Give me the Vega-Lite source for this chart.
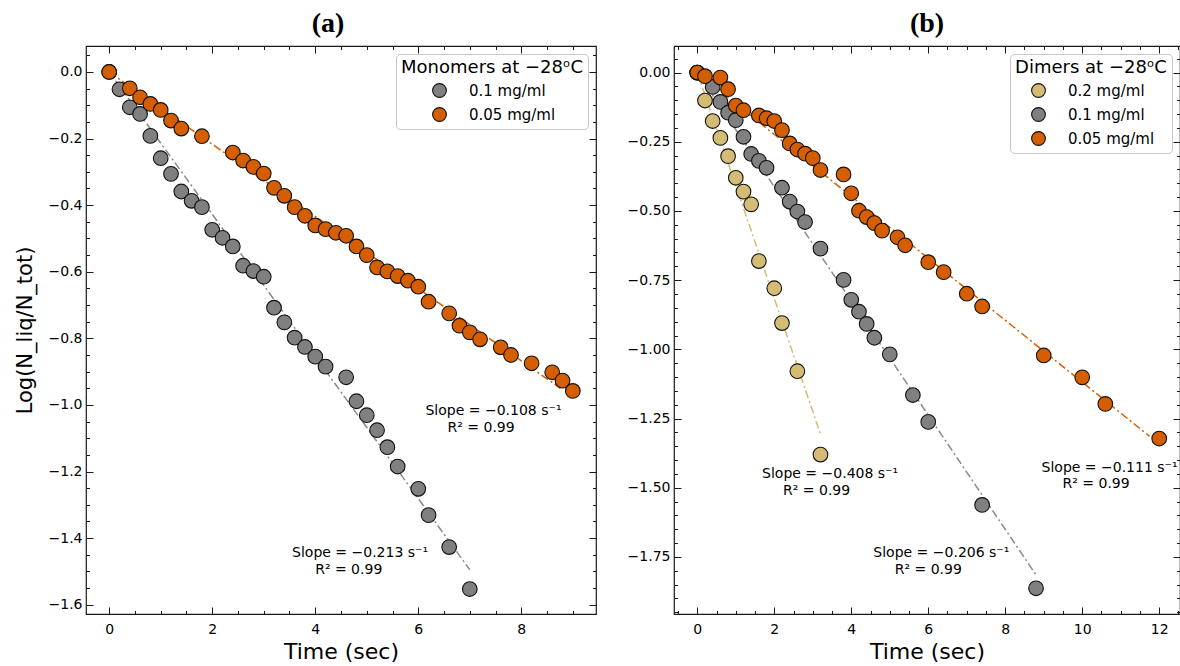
{
  "$schema": "https://vega.github.io/schema/vega-lite/v6.json",
  "padding": {"left": 13, "top": 8, "right": 2, "bottom": 0},
  "background": "white",
  "datasets": {
    "ptsA": [
      {"series": "0.1 mg/ml", "t": 0, "v": 0},
      {"series": "0.1 mg/ml", "t": 0.2, "v": -0.052},
      {"series": "0.1 mg/ml", "t": 0.4, "v": -0.106},
      {"series": "0.1 mg/ml", "t": 0.6, "v": -0.126},
      {"series": "0.1 mg/ml", "t": 0.8, "v": -0.192},
      {"series": "0.1 mg/ml", "t": 1.0, "v": -0.259},
      {"series": "0.1 mg/ml", "t": 1.2, "v": -0.306},
      {"series": "0.1 mg/ml", "t": 1.4, "v": -0.359},
      {"series": "0.1 mg/ml", "t": 1.6, "v": -0.387},
      {"series": "0.1 mg/ml", "t": 1.8, "v": -0.406},
      {"series": "0.1 mg/ml", "t": 2.0, "v": -0.474},
      {"series": "0.1 mg/ml", "t": 2.2, "v": -0.498},
      {"series": "0.1 mg/ml", "t": 2.4, "v": -0.524},
      {"series": "0.1 mg/ml", "t": 2.6, "v": -0.582},
      {"series": "0.1 mg/ml", "t": 2.8, "v": -0.598},
      {"series": "0.1 mg/ml", "t": 3.0, "v": -0.615},
      {"series": "0.1 mg/ml", "t": 3.2, "v": -0.708},
      {"series": "0.1 mg/ml", "t": 3.4, "v": -0.752},
      {"series": "0.1 mg/ml", "t": 3.6, "v": -0.798},
      {"series": "0.1 mg/ml", "t": 3.8, "v": -0.826},
      {"series": "0.1 mg/ml", "t": 4.0, "v": -0.855},
      {"series": "0.1 mg/ml", "t": 4.2, "v": -0.885},
      {"series": "0.1 mg/ml", "t": 4.6, "v": -0.917},
      {"series": "0.1 mg/ml", "t": 4.8, "v": -0.989},
      {"series": "0.1 mg/ml", "t": 5.0, "v": -1.031},
      {"series": "0.1 mg/ml", "t": 5.2, "v": -1.076},
      {"series": "0.1 mg/ml", "t": 5.4, "v": -1.127},
      {"series": "0.1 mg/ml", "t": 5.6, "v": -1.185},
      {"series": "0.1 mg/ml", "t": 6.0, "v": -1.252},
      {"series": "0.1 mg/ml", "t": 6.2, "v": -1.331},
      {"series": "0.1 mg/ml", "t": 6.6, "v": -1.427},
      {"series": "0.1 mg/ml", "t": 7.0, "v": -1.553},
      {"series": "0.05 mg/ml", "t": 0, "v": 0},
      {"series": "0.05 mg/ml", "t": 0.4, "v": -0.049},
      {"series": "0.05 mg/ml", "t": 0.6, "v": -0.076},
      {"series": "0.05 mg/ml", "t": 0.8, "v": -0.096},
      {"series": "0.05 mg/ml", "t": 1.0, "v": -0.114},
      {"series": "0.05 mg/ml", "t": 1.2, "v": -0.146},
      {"series": "0.05 mg/ml", "t": 1.4, "v": -0.170},
      {"series": "0.05 mg/ml", "t": 1.8, "v": -0.193},
      {"series": "0.05 mg/ml", "t": 2.4, "v": -0.242},
      {"series": "0.05 mg/ml", "t": 2.6, "v": -0.266},
      {"series": "0.05 mg/ml", "t": 2.8, "v": -0.285},
      {"series": "0.05 mg/ml", "t": 3.0, "v": -0.305},
      {"series": "0.05 mg/ml", "t": 3.2, "v": -0.348},
      {"series": "0.05 mg/ml", "t": 3.4, "v": -0.372},
      {"series": "0.05 mg/ml", "t": 3.6, "v": -0.406},
      {"series": "0.05 mg/ml", "t": 3.8, "v": -0.432},
      {"series": "0.05 mg/ml", "t": 4.0, "v": -0.461},
      {"series": "0.05 mg/ml", "t": 4.2, "v": -0.472},
      {"series": "0.05 mg/ml", "t": 4.4, "v": -0.483},
      {"series": "0.05 mg/ml", "t": 4.6, "v": -0.492},
      {"series": "0.05 mg/ml", "t": 4.8, "v": -0.524},
      {"series": "0.05 mg/ml", "t": 5.0, "v": -0.550},
      {"series": "0.05 mg/ml", "t": 5.2, "v": -0.587},
      {"series": "0.05 mg/ml", "t": 5.4, "v": -0.599},
      {"series": "0.05 mg/ml", "t": 5.6, "v": -0.613},
      {"series": "0.05 mg/ml", "t": 5.8, "v": -0.627},
      {"series": "0.05 mg/ml", "t": 6.0, "v": -0.645},
      {"series": "0.05 mg/ml", "t": 6.2, "v": -0.690},
      {"series": "0.05 mg/ml", "t": 6.6, "v": -0.725},
      {"series": "0.05 mg/ml", "t": 6.8, "v": -0.762},
      {"series": "0.05 mg/ml", "t": 7.0, "v": -0.782},
      {"series": "0.05 mg/ml", "t": 7.2, "v": -0.803},
      {"series": "0.05 mg/ml", "t": 7.6, "v": -0.827},
      {"series": "0.05 mg/ml", "t": 7.8, "v": -0.850},
      {"series": "0.05 mg/ml", "t": 8.2, "v": -0.875},
      {"series": "0.05 mg/ml", "t": 8.6, "v": -0.902},
      {"series": "0.05 mg/ml", "t": 8.8, "v": -0.927},
      {"series": "0.05 mg/ml", "t": 9.0, "v": -0.958}
    ],
    "fitA": [
      {"series": "0.1 mg/ml", "t": 0, "v": 0},
      {"series": "0.1 mg/ml", "t": 7.0, "v": -1.495},
      {"series": "0.05 mg/ml", "t": 0, "v": 0},
      {"series": "0.05 mg/ml", "t": 8.76, "v": -0.950}
    ],
    "annA": [
      {"t": 7.46, "v": -1.018, "text": "Slope = −0.108 s⁻¹"},
      {"t": 7.22, "v": -1.069, "text": "R² = 0.99"},
      {"t": 4.87, "v": -1.444, "text": "Slope = −0.213 s⁻¹"},
      {"t": 4.65, "v": -1.495, "text": "R² = 0.99"}
    ],
    "ptsB": [
      {"series": "0.2 mg/ml", "t": 0, "v": 0},
      {"series": "0.2 mg/ml", "t": 0.2, "v": -0.101},
      {"series": "0.2 mg/ml", "t": 0.4, "v": -0.175},
      {"series": "0.2 mg/ml", "t": 0.6, "v": -0.236},
      {"series": "0.2 mg/ml", "t": 0.8, "v": -0.302},
      {"series": "0.2 mg/ml", "t": 1.0, "v": -0.380},
      {"series": "0.2 mg/ml", "t": 1.2, "v": -0.430},
      {"series": "0.2 mg/ml", "t": 1.4, "v": -0.476},
      {"series": "0.2 mg/ml", "t": 1.6, "v": -0.681},
      {"series": "0.2 mg/ml", "t": 2.0, "v": -0.779},
      {"series": "0.2 mg/ml", "t": 2.2, "v": -0.905},
      {"series": "0.2 mg/ml", "t": 2.6, "v": -1.079},
      {"series": "0.2 mg/ml", "t": 3.2, "v": -1.380},
      {"series": "0.1 mg/ml", "t": 0, "v": 0},
      {"series": "0.1 mg/ml", "t": 0.4, "v": -0.052},
      {"series": "0.1 mg/ml", "t": 0.6, "v": -0.106},
      {"series": "0.1 mg/ml", "t": 0.8, "v": -0.145},
      {"series": "0.1 mg/ml", "t": 1.0, "v": -0.172},
      {"series": "0.1 mg/ml", "t": 1.2, "v": -0.232},
      {"series": "0.1 mg/ml", "t": 1.4, "v": -0.294},
      {"series": "0.1 mg/ml", "t": 1.6, "v": -0.319},
      {"series": "0.1 mg/ml", "t": 1.8, "v": -0.344},
      {"series": "0.1 mg/ml", "t": 2.2, "v": -0.416},
      {"series": "0.1 mg/ml", "t": 2.4, "v": -0.466},
      {"series": "0.1 mg/ml", "t": 2.6, "v": -0.502},
      {"series": "0.1 mg/ml", "t": 2.8, "v": -0.540},
      {"series": "0.1 mg/ml", "t": 3.2, "v": -0.636},
      {"series": "0.1 mg/ml", "t": 3.8, "v": -0.749},
      {"series": "0.1 mg/ml", "t": 4.0, "v": -0.821},
      {"series": "0.1 mg/ml", "t": 4.2, "v": -0.864},
      {"series": "0.1 mg/ml", "t": 4.4, "v": -0.908},
      {"series": "0.1 mg/ml", "t": 4.6, "v": -0.958},
      {"series": "0.1 mg/ml", "t": 5.0, "v": -1.018},
      {"series": "0.1 mg/ml", "t": 5.6, "v": -1.165},
      {"series": "0.1 mg/ml", "t": 6.0, "v": -1.262},
      {"series": "0.1 mg/ml", "t": 7.4, "v": -1.562},
      {"series": "0.1 mg/ml", "t": 8.8, "v": -1.863},
      {"series": "0.05 mg/ml", "t": 0, "v": 0},
      {"series": "0.05 mg/ml", "t": 0.2, "v": -0.013},
      {"series": "0.05 mg/ml", "t": 0.6, "v": -0.018},
      {"series": "0.05 mg/ml", "t": 0.8, "v": -0.060},
      {"series": "0.05 mg/ml", "t": 1.0, "v": -0.119},
      {"series": "0.05 mg/ml", "t": 1.2, "v": -0.136},
      {"series": "0.05 mg/ml", "t": 1.6, "v": -0.155},
      {"series": "0.05 mg/ml", "t": 1.8, "v": -0.165},
      {"series": "0.05 mg/ml", "t": 2.0, "v": -0.175},
      {"series": "0.05 mg/ml", "t": 2.2, "v": -0.208},
      {"series": "0.05 mg/ml", "t": 2.4, "v": -0.256},
      {"series": "0.05 mg/ml", "t": 2.6, "v": -0.278},
      {"series": "0.05 mg/ml", "t": 2.8, "v": -0.293},
      {"series": "0.05 mg/ml", "t": 3.0, "v": -0.309},
      {"series": "0.05 mg/ml", "t": 3.2, "v": -0.352},
      {"series": "0.05 mg/ml", "t": 3.8, "v": -0.368},
      {"series": "0.05 mg/ml", "t": 4.0, "v": -0.436},
      {"series": "0.05 mg/ml", "t": 4.2, "v": -0.499},
      {"series": "0.05 mg/ml", "t": 4.4, "v": -0.522},
      {"series": "0.05 mg/ml", "t": 4.6, "v": -0.544},
      {"series": "0.05 mg/ml", "t": 4.8, "v": -0.571},
      {"series": "0.05 mg/ml", "t": 5.2, "v": -0.595},
      {"series": "0.05 mg/ml", "t": 5.4, "v": -0.624},
      {"series": "0.05 mg/ml", "t": 6.0, "v": -0.685},
      {"series": "0.05 mg/ml", "t": 6.4, "v": -0.721},
      {"series": "0.05 mg/ml", "t": 7.0, "v": -0.799},
      {"series": "0.05 mg/ml", "t": 7.4, "v": -0.845},
      {"series": "0.05 mg/ml", "t": 9.0, "v": -1.022},
      {"series": "0.05 mg/ml", "t": 10.0, "v": -1.101},
      {"series": "0.05 mg/ml", "t": 10.6, "v": -1.197},
      {"series": "0.05 mg/ml", "t": 12.0, "v": -1.322}
    ],
    "fitB": [
      {"series": "0.2 mg/ml", "t": 0, "v": 0},
      {"series": "0.2 mg/ml", "t": 3.2, "v": -1.306},
      {"series": "0.1 mg/ml", "t": 0, "v": 0},
      {"series": "0.1 mg/ml", "t": 8.8, "v": -1.815},
      {"series": "0.05 mg/ml", "t": 0, "v": 0},
      {"series": "0.05 mg/ml", "t": 11.75, "v": -1.314}
    ],
    "annB": [
      {"t": 3.45, "v": -1.450, "text": "Slope = −0.408 s⁻¹"},
      {"t": 3.10, "v": -1.510, "text": "R² = 0.99"},
      {"t": 6.34, "v": -1.735, "text": "Slope = −0.206 s⁻¹"},
      {"t": 6.00, "v": -1.797, "text": "R² = 0.99"},
      {"t": 10.71, "v": -1.428, "text": "Slope = −0.111 s⁻¹"},
      {"t": 10.36, "v": -1.488, "text": "R² = 0.99"}
    ]
  },
  "spacing": 25,
  "hconcat": [
    {
      "width": 510,
      "height": 568,
      "title": {"text": "(a)", "font": "Liberation Serif", "fontSize": 28, "fontWeight": "bold", "color": "#000", "anchor": "middle", "dx": -13, "offset": 8},
      "resolve": {"axis": {"x": "independent", "y": "independent"}},
      "layer": [
        {
          "data": {"name": "fitA"},
          "mark": {"type": "line", "strokeWidth": 1.5, "strokeDash": [8, 3, 2, 3]},
          "encoding": {
            "x": {"field": "t", "type": "quantitative", "scale": {"domain": [-0.45, 9.45], "nice": false, "zero": false},
              "axis": {"orient": "bottom", "values": [0,0.5,1,1.5,2,2.5,3,3.5,4,4.5,5,5.5,6,6.5,7,7.5,8,8.5,9],
                "tickSize": {"condition": {"test": "datum.value % 2 === 0", "value": -7}, "value": -3.5},
                "labelExpr": "datum.value % 2 === 0 ? format(datum.value, 'd') : ''",
                "labelPadding": 15, "labelOverlap": false, "labelFlush": false, "labelBound": false,
                "title": "Time (sec)", "titleFontSize": 22, "titlePadding": 2}},
            "y": {"field": "v", "type": "quantitative", "scale": {"domain": [-1.628, 0.078], "nice": false, "zero": false},
              "axis": {"orient": "left", "values": [-1.6,-1.55,-1.5,-1.45,-1.4,-1.35,-1.3,-1.25,-1.2,-1.15,-1.1,-1.05,-1,-0.95,-0.9,-0.85,-0.8,-0.75,-0.7,-0.65,-0.6,-0.55,-0.5,-0.45,-0.4,-0.35,-0.3,-0.25,-0.2,-0.15,-0.1,-0.05,0,0.05],
                "tickSize": {"condition": {"test": "abs(datum.value*5 - round(datum.value*5)) < 0.001", "value": -7}, "value": -3.5},
                "labelExpr": "abs(datum.value*5 - round(datum.value*5)) < 0.001 ? format(datum.value, '.1f') : ''",
                "labelPadding": 11, "labelOverlap": false, "labelFlush": false, "labelBound": false,
                "minExtent": 40, "maxExtent": 40,
                "title": "Log(N_liq/N_tot)", "titleFontSize": 21, "titlePadding": 11}},
            "detail": {"field": "series"},
            "stroke": {"field": "series", "type": "nominal", "scale": {"domain": ["0.05 mg/ml", "0.1 mg/ml"], "range": ["#d55e00", "#8a8a8a"]}, "legend": null}
          }
        },
        {
          "data": {"name": "ptsA"},
          "mark": {"type": "circle", "size": 215, "opacity": 1, "stroke": "#111111", "strokeWidth": 1.1},
          "encoding": {
            "x": {"field": "t", "type": "quantitative", "scale": {"domain": [-0.45, 9.45], "nice": false, "zero": false},
              "axis": {"orient": "top", "values": [0,0.5,1,1.5,2,2.5,3,3.5,4,4.5,5,5.5,6,6.5,7,7.5,8,8.5,9],
                "tickSize": {"condition": {"test": "datum.value % 2 === 0", "value": -7}, "value": -3.5},
                "labels": false, "title": null, "minExtent": 0, "maxExtent": 0}},
            "y": {"field": "v", "type": "quantitative", "scale": {"domain": [-1.628, 0.078], "nice": false, "zero": false},
              "axis": {"orient": "right", "values": [-1.6,-1.55,-1.5,-1.45,-1.4,-1.35,-1.3,-1.25,-1.2,-1.15,-1.1,-1.05,-1,-0.95,-0.9,-0.85,-0.8,-0.75,-0.7,-0.65,-0.6,-0.55,-0.5,-0.45,-0.4,-0.35,-0.3,-0.25,-0.2,-0.15,-0.1,-0.05,0,0.05],
                "tickSize": {"condition": {"test": "abs(datum.value*5 - round(datum.value*5)) < 0.001", "value": -7}, "value": -3.5},
                "labels": false, "title": null, "minExtent": 0, "maxExtent": 0}},
            "color": {"field": "series", "type": "nominal", "scale": {"domain": ["0.1 mg/ml", "0.05 mg/ml"], "range": ["#808080", "#d55e00"]},
              "legend": {"title": "Monomers at −28ᵒC", "orient": "top-right", "offset": 8, "symbolOffset": 4}}
          }
        },
        {
          "data": {"name": "annA"},
          "mark": {"type": "text", "fontSize": 14, "font": "DejaVu Sans", "align": "center", "baseline": "middle", "color": "#000"},
          "encoding": {
            "x": {"field": "t", "type": "quantitative", "scale": {"domain": [-0.45, 9.45], "nice": false, "zero": false}, "axis": null},
            "y": {"field": "v", "type": "quantitative", "scale": {"domain": [-1.628, 0.078], "nice": false, "zero": false}, "axis": null},
            "text": {"field": "text"}
          }
        }
      ]
    },
    {
      "width": 506,
      "height": 568,
      "title": {"text": "(b)", "font": "Liberation Serif", "fontSize": 28, "fontWeight": "bold", "color": "#000", "anchor": "middle", "offset": 8},
      "resolve": {"axis": {"x": "independent", "y": "independent"}},
      "layer": [
        {
          "data": {"name": "fitB"},
          "mark": {"type": "line", "strokeWidth": 1.5, "strokeDash": [8, 3, 2, 3]},
          "encoding": {
            "x": {"field": "t", "type": "quantitative", "scale": {"domain": [-0.605, 12.54], "nice": false, "zero": false},
              "axis": {"orient": "bottom", "values": [-0.5,0,0.5,1,1.5,2,2.5,3,3.5,4,4.5,5,5.5,6,6.5,7,7.5,8,8.5,9,9.5,10,10.5,11,11.5,12,12.5],
                "tickSize": {"condition": {"test": "datum.value % 2 === 0", "value": -7}, "value": -3.5},
                "labelExpr": "datum.value % 2 === 0 ? format(datum.value, 'd') : ''",
                "labelPadding": 15, "labelOverlap": false, "labelFlush": false, "labelBound": false,
                "title": "Time (sec)", "titleFontSize": 22, "titlePadding": 2}},
            "y": {"field": "v", "type": "quantitative", "scale": {"domain": [-1.956, 0.096], "nice": false, "zero": false},
              "axis": {"orient": "left", "values": [-1.95,-1.9,-1.85,-1.8,-1.75,-1.7,-1.65,-1.6,-1.55,-1.5,-1.45,-1.4,-1.35,-1.3,-1.25,-1.2,-1.15,-1.1,-1.05,-1,-0.95,-0.9,-0.85,-0.8,-0.75,-0.7,-0.65,-0.6,-0.55,-0.5,-0.45,-0.4,-0.35,-0.3,-0.25,-0.2,-0.15,-0.1,-0.05,0,0.05],
                "tickSize": {"condition": {"test": "abs(datum.value*4 - round(datum.value*4)) < 0.001", "value": -7}, "value": -3.5},
                "labelExpr": "abs(datum.value*4 - round(datum.value*4)) < 0.001 ? format(datum.value, '.2f') : ''",
                "labelPadding": 11, "labelOverlap": false, "labelFlush": false, "labelBound": false,
                "minExtent": 50, "maxExtent": 50, "title": null}},
            "detail": {"field": "series"},
            "stroke": {"field": "series", "type": "nominal", "scale": {"domain": ["0.05 mg/ml", "0.1 mg/ml", "0.2 mg/ml"], "range": ["#d55e00", "#8a8a8a", "#d4bc74"]}, "legend": null}
          }
        },
        {
          "data": {"name": "ptsB"},
          "mark": {"type": "circle", "size": 215, "opacity": 1, "stroke": "#111111", "strokeWidth": 1.1},
          "encoding": {
            "x": {"field": "t", "type": "quantitative", "scale": {"domain": [-0.605, 12.54], "nice": false, "zero": false},
              "axis": {"orient": "top", "values": [-0.5,0,0.5,1,1.5,2,2.5,3,3.5,4,4.5,5,5.5,6,6.5,7,7.5,8,8.5,9,9.5,10,10.5,11,11.5,12,12.5],
                "tickSize": {"condition": {"test": "datum.value % 2 === 0", "value": -7}, "value": -3.5},
                "labels": false, "title": null, "minExtent": 0, "maxExtent": 0}},
            "y": {"field": "v", "type": "quantitative", "scale": {"domain": [-1.956, 0.096], "nice": false, "zero": false},
              "axis": {"orient": "right", "values": [-1.95,-1.9,-1.85,-1.8,-1.75,-1.7,-1.65,-1.6,-1.55,-1.5,-1.45,-1.4,-1.35,-1.3,-1.25,-1.2,-1.15,-1.1,-1.05,-1,-0.95,-0.9,-0.85,-0.8,-0.75,-0.7,-0.65,-0.6,-0.55,-0.5,-0.45,-0.4,-0.35,-0.3,-0.25,-0.2,-0.15,-0.1,-0.05,0,0.05],
                "tickSize": {"condition": {"test": "abs(datum.value*4 - round(datum.value*4)) < 0.001", "value": -7}, "value": -3.5},
                "labels": false, "title": null, "minExtent": 0, "maxExtent": 0}},
            "color": {"field": "series", "type": "nominal", "scale": {"domain": ["0.2 mg/ml", "0.1 mg/ml", "0.05 mg/ml"], "range": ["#d4bc74", "#808080", "#d55e00"]},
              "legend": {"title": "Dimers at −28ᵒC", "orient": "top-right", "offset": 8, "symbolOffset": 4}}
          }
        },
        {
          "data": {"name": "annB"},
          "mark": {"type": "text", "fontSize": 14, "font": "DejaVu Sans", "align": "center", "baseline": "middle", "color": "#000"},
          "encoding": {
            "x": {"field": "t", "type": "quantitative", "scale": {"domain": [-0.605, 12.54], "nice": false, "zero": false}, "axis": null},
            "y": {"field": "v", "type": "quantitative", "scale": {"domain": [-1.956, 0.096], "nice": false, "zero": false}, "axis": null},
            "text": {"field": "text"}
          }
        }
      ]
    }
  ],
  "resolve": {"scale": {"x": "independent", "y": "independent", "color": "independent", "stroke": "independent"}},
  "config": {
    "font": "DejaVu Sans",
    "view": {"stroke": "#1a1a1a", "strokeWidth": 1.2},
    "axis": {"domain": false, "grid": false, "ticks": true, "tickColor": "#1a1a1a", "tickWidth": 1, "labelFont": "DejaVu Sans", "labelFontSize": 14, "labelColor": "#000", "titleFont": "DejaVu Sans", "titleFontWeight": "normal", "titleColor": "#000"},
    "legend": {"fillColor": "white", "strokeColor": "#c8c8c8", "cornerRadius": 4, "padding": 5, "titleFontSize": 18, "titleFontWeight": "normal", "titleColor": "#000", "titleAnchor": "middle", "titleLimit": 400, "titlePadding": 6, "rowPadding": 5, "labelFontSize": 15, "labelColor": "#000", "labelOffset": 22, "symbolSize": 190, "symbolOpacity": 1, "symbolStrokeColor": "#111111", "symbolStrokeWidth": 1.1}
  }
}
